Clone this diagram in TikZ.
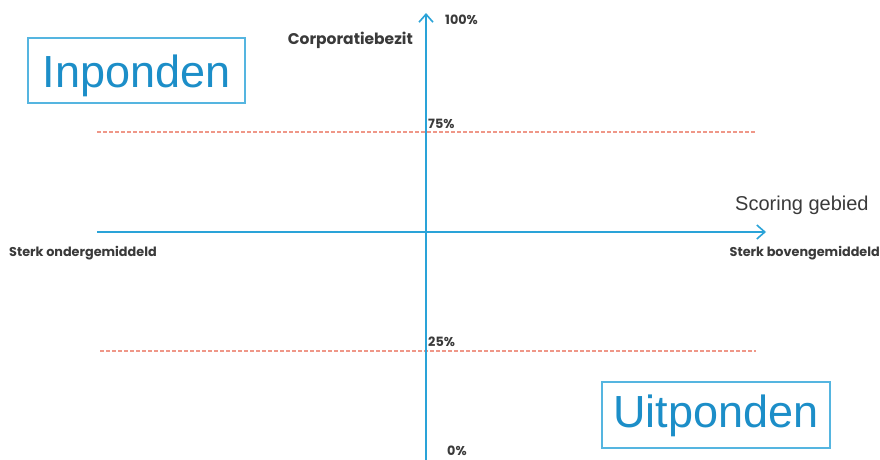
\documentclass[tikz,border=0pt]{standalone}
\usepackage{fontspec}
\setmainfont{Liberation Sans}
\newfontfamily\lblfont{Poppins}
\usetikzlibrary{arrows.meta}
\definecolor{axisblue}{HTML}{2AA3D8}
\definecolor{boxblue}{HTML}{1C8EC8}
\definecolor{dashred}{HTML}{E86A55}
\definecolor{txtgray}{HTML}{3A3A3A}
\tikzset{
  axis/.style={draw=axisblue, line width=2pt, -{Straight Barb[length=8pt,width=14pt,line width=1.6pt]}},
  quad/.style={draw=axisblue!80, line width=1.4pt, text=boxblue, font=\fontsize{45}{48}\selectfont, inner sep=0pt, anchor=center, text depth=0pt},
  guide/.style={draw=dashred!70, line width=1.1pt, dash pattern=on 3.5pt off 2.5pt},
  small/.style={text=txtgray, font=\lblfont\bfseries\fontsize{12.8}{14}\selectfont, inner sep=0pt},
  med/.style={text=txtgray, font=\lblfont\bfseries\fontsize{15.5}{17}\selectfont, inner sep=0pt},
  big/.style={text=txtgray, font=\fontsize{20}{22}\selectfont, inner sep=0pt}
}
\begin{document}
\begin{tikzpicture}[x=1pt,y=-1pt]
\useasboundingbox (0,0) rectangle (880,459);
\fill[white] (0,0) rectangle (880,459);
% guides
\coordinate (g75a) at (97,132);
\coordinate (g75b) at (756,132);
\coordinate (g25a) at (100,351);
\coordinate (g25b) at (756,351);
\draw[guide] (g75a) -- (g75b);
\draw[guide] (g25a) -- (g25b);
% axes
\coordinate (ybot) at (426,470);
\coordinate (ytop) at (426,13);
\coordinate (xl) at (97,232);
\coordinate (xr) at (766,232);
\draw[axis] (ybot) -- (ytop);
\draw[axis] (xl) -- (xr);
% boxes
\node[quad, minimum width=217pt, minimum height=65pt, text height=33pt] (inp) at (136.5,70.5) {Inponden};
\node[quad, minimum width=228pt, minimum height=66pt, text height=25pt] (uit) at (716,415) {Uitponden};
% labels
\node[med, anchor=east] (corp) at (413,40) {Corporatiebezit};
\node[small, anchor=west] (p100) at (445,20) {100\%};
\node[small, anchor=west] (p75) at (428,124) {75\%};
\node[small, anchor=west] (p25) at (428,342) {25\%};
\node[small, anchor=west] (p0) at (447,451) {0\%};
\node[small, anchor=west] (lo) at (9,253) {Sterk ondergemiddeld};
\node[small, anchor=east] (hi) at (880,253) {Sterk bovengemiddeld};
\node[big, anchor=west] (sg) at (735,205) {Scoring gebied};
\end{tikzpicture}
\end{document}
